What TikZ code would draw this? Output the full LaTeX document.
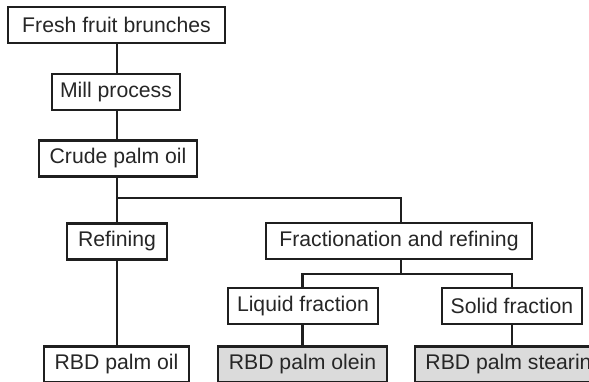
\documentclass[tikz,border=0pt]{standalone}
\usepackage{fontspec}
\setmainfont{Liberation Sans}
\begin{document}
\begin{tikzpicture}[x=1pt,y=-1pt,
  box/.style={draw=black!88, line width=2.4pt, fill=white, inner sep=0pt,
    minimum height=36pt, text=black!85, font=\fontsize{21.2}{25}\selectfont},
  graybox/.style={box, fill=black!14},
  link/.style={draw=black!88, line width=2.4pt}]
\clip (0,0) rectangle (589,381);
\node[box, minimum width=217pt] (fresh) at (116.5,25) {Fresh fruit brunches};
\node[box, minimum width=128pt] (mill) at (116,92) {Mill process};
\node[box, minimum width=158pt] (crude) at (118,158.5) {Crude palm oil};
\node[box, minimum width=100pt] (ref) at (117,241.5) {Refining};
\node[box, minimum width=266pt] (frac) at (399,241) {Fractionation and refining};
\node[box, minimum width=150pt] (liq) at (303,306) {Liquid fraction};
\node[box, minimum width=140pt] (sol) at (512,306) {Solid fraction};
\node[box, minimum width=145pt] (oil) at (116.5,364.5) {RBD palm oil};
\node[graybox, minimum width=169pt] (olein) at (302.5,364.5) {RBD palm olein};
\node[graybox, minimum width=187pt] (stearin) at (508.5,364.5) {RBD palm stearin};
\coordinate (split) at (117,198);
\coordinate (split2) at (401,274);
\path[link] (fresh.south -| split) -- (mill.north -| split);
\path[link] (mill.south -| split) -- (crude.north -| split);
\path[link] (crude.south -| split) -- (ref.north -| split);
\path[link] (split) -| (frac.north -| split2);
\path[link] (ref.south -| split) -- (oil.north -| split);
\path[link] (frac.south -| split2) -- (split2);
\path[link] (liq.north -| olein) |- (split2) -| (sol.north);
\path[link] (liq.south -| olein) -- (olein.north);
\path[link] (sol.south) -- (sol.south |- stearin.north);
\end{tikzpicture}
\end{document}
